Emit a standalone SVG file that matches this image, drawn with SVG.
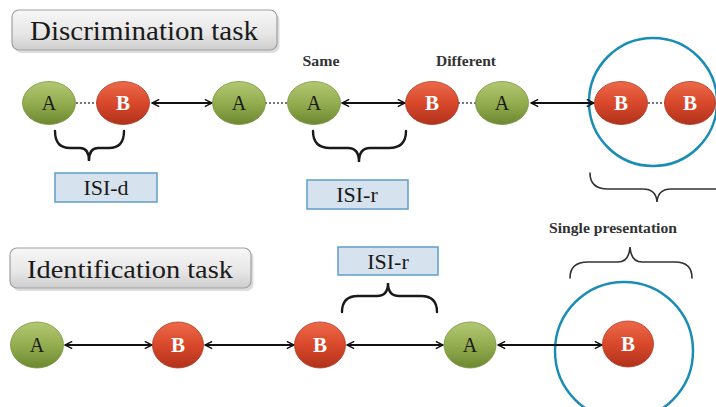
<svg xmlns="http://www.w3.org/2000/svg" width="716" height="407" viewBox="0 0 716 407">
<defs>
<linearGradient id="gGreen" x1="0" y1="0" x2="0" y2="1">
<stop offset="0" stop-color="#b2c772"/>
<stop offset="0.5" stop-color="#94ad50"/>
<stop offset="1" stop-color="#6c8830"/>
</linearGradient>
<linearGradient id="gRed" x1="0" y1="0" x2="0" y2="1">
<stop offset="0" stop-color="#ec6a4a"/>
<stop offset="0.5" stop-color="#d9482b"/>
<stop offset="1" stop-color="#b0321b"/>
</linearGradient>
<linearGradient id="gTitle" x1="0" y1="0" x2="0" y2="1">
<stop offset="0" stop-color="#f7f7f7"/>
<stop offset="0.6" stop-color="#e6e6e6"/>
<stop offset="1" stop-color="#cdcdcd"/>
</linearGradient>
<marker id="ah" viewBox="0 0 10 10" refX="9" refY="5" markerWidth="9" markerHeight="9" markerUnits="userSpaceOnUse" orient="auto-start-reverse">
<path d="M1,1 L9,5 L1,9" fill="none" stroke="#111" stroke-width="1.6"/>
</marker>
</defs>
<style>
.green{fill:url(#gGreen);stroke:#7a9440;stroke-width:0.8}
.red{fill:url(#gRed);stroke:#b03a22;stroke-width:0.8}
.la{font-family:"Liberation Serif","Times New Roman",serif;font-size:20px;fill:#1a1a1a;text-anchor:middle}
.lb{font-family:"Liberation Serif","Times New Roman",serif;font-size:21px;font-weight:bold;fill:#ffffff;text-anchor:middle}
.title{fill:url(#gTitle);stroke:#a0a0a0;stroke-width:1.2}
.ttl{font-family:"Liberation Serif","Times New Roman",serif;fill:#1a1a1a}
.isi{fill:#d6e2ee;stroke:#5f9fc6;stroke-width:1.5}
.isit{font-family:"Liberation Serif","Times New Roman",serif;font-size:22px;fill:#1a1a1a;text-anchor:middle}
.small{font-family:"Liberation Serif","Times New Roman",serif;font-size:14px;font-weight:bold;fill:#333;text-anchor:middle}
.arrow{stroke:#111;stroke-width:1.8;fill:none;marker-start:url(#ah);marker-end:url(#ah)}
.dot{stroke:#777;stroke-width:1.8;stroke-dasharray:2 2;fill:none}
.brace{fill:none;stroke:#1a1a1a;stroke-width:2.4;stroke-linecap:round}
.braceT{fill:none;stroke:#333;stroke-width:1.6;stroke-linecap:round}
.ring{fill:none;stroke:#1b8db5;stroke-width:2.5}
</style>

<!-- Titles -->
<g id="title-discrimination">
<rect x="13" y="11" width="265" height="40" rx="7" fill="#bbb" opacity="0.5" transform="translate(1.5,2)"/>
<rect class="title" x="12" y="10" width="265" height="40" rx="7"/>
<text class="ttl" x="144" y="40" font-size="27" text-anchor="middle" textLength="228" lengthAdjust="spacingAndGlyphs">Discrimination task</text>
</g>
<g id="title-identification">
<rect x="11" y="249" width="241" height="40" rx="7" fill="#bbb" opacity="0.5" transform="translate(1.5,2)"/>
<rect class="title" x="10" y="248" width="241" height="40" rx="7"/>
<text class="ttl" x="130" y="278" font-size="26" text-anchor="middle" textLength="206" lengthAdjust="spacingAndGlyphs">Identification task</text>
</g>

<!-- Rings -->
<circle class="ring" cx="653" cy="102" r="64"/>
<circle class="ring" cx="624" cy="351" r="69"/>

<!-- Connectors -->
<g id="connectors">
<line class="dot" x1="76" y1="103" x2="97" y2="103"/>
<line class="dot" x1="265" y1="103" x2="288" y2="103"/>
<line class="dot" x1="458" y1="103" x2="476" y2="103"/>
<line class="dot" x1="648" y1="103" x2="665" y2="103"/>
<line class="arrow" x1="152" y1="103" x2="212" y2="103"/>
<line class="arrow" x1="342" y1="103" x2="405" y2="103"/>
<line class="arrow" x1="531" y1="103" x2="594" y2="103"/>
<line class="arrow" x1="65" y1="345" x2="152" y2="345"/>
<line class="arrow" x1="205" y1="345" x2="294" y2="345"/>
<line class="arrow" x1="347" y1="345" x2="443" y2="345"/>
<line class="arrow" x1="498" y1="345" x2="602" y2="345"/>
</g>

<!-- Row 1 nodes -->
<g id="d-a1"><ellipse class="green" cx="49" cy="103" rx="26.5" ry="21.5"/><text class="la" x="49" y="110">A</text></g>
<g id="d-b1"><ellipse class="red" cx="123" cy="103" rx="26.5" ry="21.5"/><text class="lb" x="123" y="110">B</text></g>
<g id="d-a2"><ellipse class="green" cx="239" cy="103" rx="26.5" ry="21.5"/><text class="la" x="239" y="110">A</text></g>
<g id="d-a3"><ellipse class="green" cx="314" cy="103" rx="26.5" ry="21.5"/><text class="la" x="314" y="110">A</text></g>
<g id="d-b2"><ellipse class="red" cx="432" cy="103" rx="26.5" ry="21.5"/><text class="lb" x="432" y="110">B</text></g>
<g id="d-a4"><ellipse class="green" cx="502" cy="103" rx="26.5" ry="21.5"/><text class="la" x="502" y="110">A</text></g>
<g id="d-b3"><ellipse class="red" cx="621" cy="103" rx="26.5" ry="21.5"/><text class="lb" x="621" y="110">B</text></g>
<g id="d-b4"><ellipse class="red" cx="690" cy="103" rx="25.5" ry="21.5"/><text class="lb" x="690" y="110">B</text></g>

<!-- Row 1 labels -->
<g id="label-same"><text class="small" x="321" y="66" textLength="37" lengthAdjust="spacingAndGlyphs">Same</text></g>
<g id="label-different"><text class="small" x="466" y="66" textLength="60" lengthAdjust="spacingAndGlyphs">Different</text></g>

<!-- Row 1 braces and ISI boxes -->
<g id="brace-isid"><path class="brace" d="M55,131 Q55,148 70,148 L80,148 Q89,148 89,161 Q89,148 98,148 L109,148 Q124,148 124,131"/></g>
<g id="isi-d"><rect class="isi" x="55" y="173" width="102" height="29"/><text class="isit" x="106" y="195">ISI-d</text></g>
<g id="brace-isir1"><path class="brace" d="M313,131 Q313,148 330,148 L348,148 Q359,148 359,162 Q359,148 370,148 L389,148 Q406,148 406,131"/></g>
<g id="isi-r1"><rect class="isi" x="307" y="180" width="101" height="29"/><text class="isit" x="357" y="202">ISI-r</text></g>
<g id="brace-single1"><path class="braceT" d="M590,173 Q590,189 608,189 L643,189 Q656,189 657,202 Q658,189 671,189 L716,189"/></g>

<!-- Row 2 nodes -->
<g id="i-a1"><ellipse class="green" cx="37" cy="345" rx="26.5" ry="23"/><text class="la" x="37" y="352">A</text></g>
<g id="i-b1"><ellipse class="red" cx="178" cy="345" rx="25.5" ry="23"/><text class="lb" x="178" y="352">B</text></g>
<g id="i-b2"><ellipse class="red" cx="320" cy="345" rx="25.5" ry="23"/><text class="lb" x="320" y="352">B</text></g>
<g id="i-a2"><ellipse class="green" cx="470" cy="345" rx="26" ry="23"/><text class="la" x="470" y="352">A</text></g>
<g id="i-b3"><ellipse class="red" cx="628" cy="344" rx="25.5" ry="23"/><text class="lb" x="628" y="351">B</text></g>

<!-- Row 2 braces and labels -->
<g id="isi-r2"><rect class="isi" x="338" y="247" width="100" height="28"/><text class="isit" x="388" y="269">ISI-r</text></g>
<g id="brace-isir2"><path class="brace" d="M342,312 Q342,296 358,296 L377,296 Q388,296 388,283 Q388,296 399,296 L421,296 Q437,296 437,312"/></g>
<g id="label-single"><text class="small" x="613" y="233" font-size="15" textLength="128" lengthAdjust="spacingAndGlyphs">Single presentation</text></g>
<g id="brace-single2"><path class="braceT" d="M570,278 Q570,262 588,262 L618,262 Q629,262 630,247 Q631,262 642,262 L675,262 Q692,262 692,278"/></g>
</svg>
